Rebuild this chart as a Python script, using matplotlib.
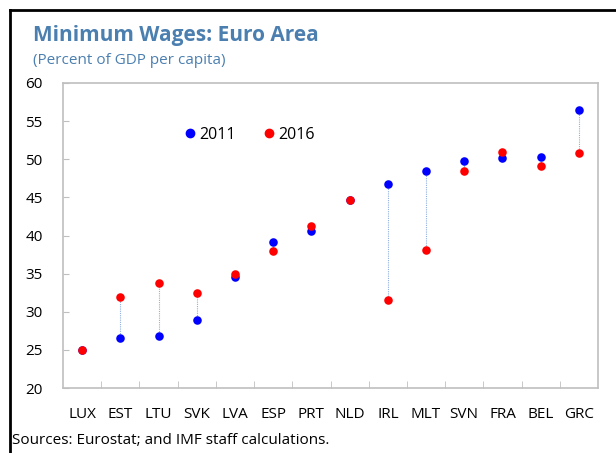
import numpy as np
import matplotlib.pyplot as plt
from matplotlib.lines import Line2D

countries = ["LUX", "EST", "LTU", "SVK", "LVA", "ESP", "PRT",
             "NLD", "IRL", "MLT", "SVN", "FRA", "BEL", "GRC"]
wage_2011 = [25.0, 26.5, 26.8, 28.9, 34.5, 39.1, 40.6,
             44.7, 46.7, 48.4, 49.8, 50.1, 50.3, 56.5]
wage_2016 = [25.0, 32.0, 33.8, 32.4, 35.0, 38.0, 41.3,
             44.7, 31.6, 38.1, 48.4, 51.0, 49.1, 50.8]

title_blue = "#4a7fb0"
grey = "#bfbfbf"

plt.rcParams['font.family'] = ['Open Sans', 'DejaVu Sans']

fig = plt.figure(figsize=(6.16, 4.53), dpi=100)
ax = fig.add_axes([63 / 616, 1 - 388 / 453, (598 - 63) / 616, (388 - 83) / 453])

x = np.arange(len(countries))
ax.vlines(x, wage_2011, wage_2016, colors="#8fb0e0", linestyles=(0, (1, 1)), linewidth=0.8, zorder=1)
ax.scatter(x, wage_2011, s=38, color="#0000ff", zorder=2, linewidths=0)
ax.scatter(x, wage_2016, s=38, color="#ff0000", zorder=3, linewidths=0)

ax.set_xlim(-0.5, len(countries) - 0.5)
ax.set_ylim(20, 60)
ax.set_yticks(np.arange(20, 61, 5))
ax.set_xticks(x)
ax.set_xticklabels(countries)
ax.set_xticks(np.arange(0.5, len(countries) - 1, 1), minor=True)
ax.tick_params(axis='x', which='major', length=0, pad=14, labelsize=11)
ax.tick_params(axis='x', which='minor', direction='in', length=5, color=grey)
ax.tick_params(axis='y', direction='in', length=4, color=grey, pad=21, labelsize=11)
for lbl in ax.get_yticklabels():
    lbl.set_horizontalalignment('center')
for s in ax.spines.values():
    s.set_color(grey)
    s.set_linewidth(1.2)

handles = [Line2D([], [], marker='o', linestyle='', color="#0000ff", markersize=6),
           Line2D([], [], marker='o', linestyle='', color="#ff0000", markersize=6)]
ax.legend(handles, ["2011", "2016"], ncol=2, frameon=False, loc='center',
          bbox_to_anchor=(0.345, 0.83), fontsize=11.5, handletextpad=0.0,
          columnspacing=1.5, handlelength=1.2)

fig.text(33 / 616, 1 - 36 / 453, "Minimum Wages: Euro Area", color=title_blue,
         fontsize=15, fontweight='bold', va='center', ha='left')
fig.text(33 / 616, 1 - 60 / 453, "(Percent of GDP per capita)", color=title_blue,
         fontsize=11, va='center', ha='left')
fig.text(12 / 616, 1 - 440 / 453, "Sources: Eurostat; and IMF staff calculations.",
         fontsize=11, va='center', ha='left')

# black frame on top and left
fig.add_artist(Line2D([10 / 616, 10 / 616], [0, 1 - 10 / 453], color='black', linewidth=2,
                      transform=fig.transFigure))
fig.add_artist(Line2D([10 / 616, 1], [1 - 10 / 453, 1 - 10 / 453], color='black', linewidth=2,
                      transform=fig.transFigure))

fig.savefig("out.png", dpi=100)
